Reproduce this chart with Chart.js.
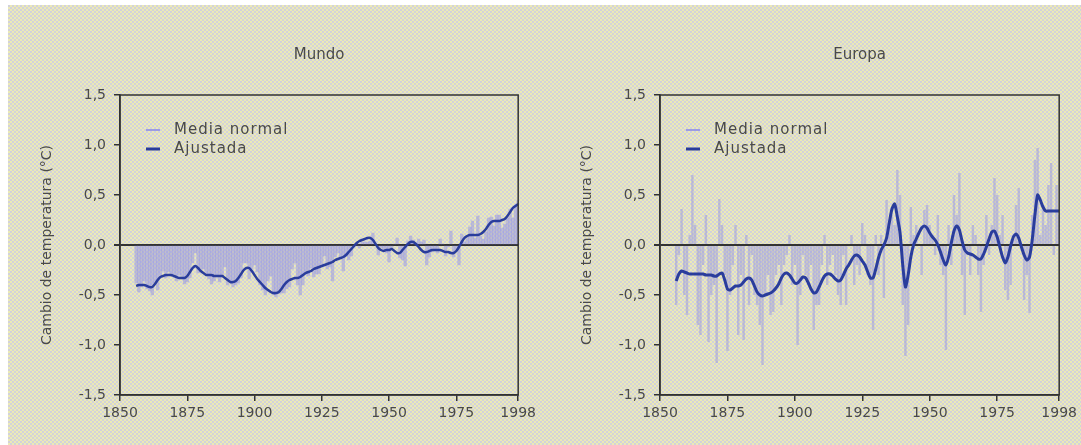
<!DOCTYPE html>
<html lang="es">
<head>
<meta charset="utf-8">
<title>Cambio de temperatura</title>
<script src="https://cdn.jsdelivr.net/npm/chart.js@4.4.1/dist/chart.umd.min.js"></script>
<style>
  html, body { margin: 0; padding: 0; background: #fff; }
  #page { position: relative; width: 1081px; height: 445px; overflow: hidden; }
  #fondo {
    position: absolute; left: 8px; top: 5px; right: 0; bottom: 0;
    background-color: #e0dfc2;
    background-image: repeating-conic-gradient(#eceab6 0 25%, #d2d2da 0 50%);
    background-size: 4px 4px;
  }
  canvas { position: absolute; top: 0; }
  #mundo { left: 0; }
  #europa { left: 540px; }
</style>
</head>
<body>
<div id="page">
  <div id="fondo"></div>
  <canvas id="mundo" width="540" height="445"></canvas>
  <canvas id="europa" width="541" height="445"></canvas>
</div>
<script>
// datos: anomalias anuales de temperatura (°C), desde 1856 hasta 1998
const primerAnio = 1856;
const xTicks = [1850, 1875, 1900, 1925, 1950, 1975, 1998];
const yTicks = [-1.5, -1.0, -0.5, 0.0, 0.5, 1.0, 1.5];

const mundoNormal = [
    -0.38, -0.47, -0.42, -0.36,
    -0.44, -0.46, -0.50, -0.38, -0.45, -0.30, -0.26, -0.33, -0.27, -0.29,
    -0.31, -0.36, -0.30, -0.34, -0.39, -0.37, -0.33, -0.18, -0.08, -0.28,
    -0.27, -0.24, -0.30, -0.34, -0.39, -0.36, -0.30, -0.37, -0.31, -0.22,
    -0.40, -0.36, -0.42, -0.40, -0.38, -0.33, -0.18, -0.18, -0.34, -0.24,
    -0.20, -0.27, -0.40, -0.45, -0.50, -0.36, -0.31, -0.50, -0.52, -0.49,
    -0.48, -0.48, -0.44, -0.42, -0.24, -0.18, -0.40, -0.50, -0.40, -0.30,
    -0.31, -0.23, -0.32, -0.29, -0.29, -0.21, -0.11, -0.24, -0.22, -0.36,
    -0.12, -0.08, -0.12, -0.26, -0.11, -0.15, -0.11, -0.01, 0.00, -0.03,
    0.03, 0.03, 0.03, 0.04, 0.12, 0.01, -0.10, -0.03, -0.05, -0.08,
    -0.17, -0.03, 0.01, 0.07, -0.13, -0.15, -0.21, 0.04, 0.09, 0.05,
    -0.01, 0.06, 0.03, 0.05, -0.20, -0.12, -0.07, -0.04, -0.08, 0.06,
    0.01, -0.11, -0.02, 0.14, -0.12, -0.06, -0.20, 0.11, 0.03, 0.09,
    0.18, 0.24, 0.07, 0.29, 0.09, 0.06, 0.13, 0.27, 0.28, 0.19,
    0.30, 0.30, 0.17, 0.21, 0.27, 0.36, 0.27, 0.40, 0.45
];
const mundoAjustada = [
    -0.41, -0.40, -0.40, -0.40,
    -0.41, -0.42, -0.42, -0.39, -0.35, -0.32, -0.31, -0.30, -0.30, -0.30,
    -0.31, -0.32, -0.33, -0.33, -0.33, -0.31, -0.27, -0.23, -0.21, -0.23,
    -0.26, -0.28, -0.30, -0.30, -0.30, -0.31, -0.31, -0.31, -0.31, -0.33,
    -0.35, -0.37, -0.37, -0.36, -0.33, -0.29, -0.25, -0.23, -0.23, -0.26,
    -0.30, -0.34, -0.37, -0.40, -0.43, -0.45, -0.47, -0.48, -0.48, -0.47,
    -0.44, -0.40, -0.37, -0.35, -0.34, -0.33, -0.33, -0.32, -0.30, -0.28,
    -0.27, -0.26, -0.24, -0.23, -0.22, -0.21, -0.20, -0.19, -0.18, -0.17,
    -0.15, -0.14, -0.13, -0.12, -0.10, -0.07, -0.04, -0.01, 0.02, 0.04,
    0.05, 0.06, 0.07, 0.07, 0.05, 0.01, -0.03, -0.05, -0.06, -0.05,
    -0.05, -0.04, -0.06, -0.08, -0.08, -0.05, -0.02, 0.01, 0.03, 0.03,
    0.01, -0.02, -0.05, -0.07, -0.07, -0.06, -0.05, -0.05, -0.05, -0.05,
    -0.06, -0.07, -0.07, -0.08, -0.08, -0.06, -0.02, 0.03, 0.07, 0.09,
    0.10, 0.10, 0.10, 0.10, 0.11, 0.13, 0.16, 0.20, 0.23, 0.24,
    0.24, 0.24, 0.25, 0.26, 0.29, 0.33, 0.37, 0.39, 0.41
];

const europaNormal = [
    -0.60, -0.10, 0.36, -0.50,
    -0.70, 0.10, 0.70, 0.20, -0.80, -0.90, -0.20, 0.30, -0.97, -0.50,
    -0.40, -1.18, 0.46, 0.20, -0.30, -1.06, -0.50, -0.20, 0.20, -0.90,
    -0.30, -0.95, 0.10, -0.60, -0.10, -0.50, -0.60, -0.80, -1.20, -0.50,
    -0.30, -0.70, -0.67, -0.30, -0.20, -0.60, -0.20, -0.10, 0.10, -0.40,
    -0.20, -1.00, -0.50, -0.10, -0.30, -0.40, -0.20, -0.85, -0.60, -0.60,
    -0.20, 0.10, -0.40, -0.20, -0.10, -0.30, -0.50, -0.60, -0.10, -0.60,
    0.00, 0.10, -0.40, -0.20, -0.30, 0.22, 0.10, -0.30, -0.40, -0.85,
    0.10, -0.30, 0.10, -0.53, 0.45, 0.20, 0.30, 0.20, 0.75, 0.50,
    -0.60, -1.11, -0.80, 0.38, 0.10, 0.20, 0.00, -0.30, 0.35, 0.40,
    0.20, 0.10, -0.10, 0.30, -0.20, -0.30, -1.05, 0.20, -0.20, 0.50,
    0.30, 0.72, -0.30, -0.70, -0.10, -0.30, 0.20, 0.10, -0.30, -0.67,
    -0.20, 0.30, -0.10, 0.20, 0.67, 0.50, 0.10, 0.30, -0.45, -0.55,
    -0.40, 0.10, 0.40, 0.57, 0.00, -0.55, -0.30, -0.68, 0.30, 0.85,
    0.97, 0.10, 0.40, 0.20, 0.60, 0.82, -0.10, 0.60, 0.30
];
const europaAjustada = [
    -0.36, -0.29, -0.26, -0.27,
    -0.28, -0.29, -0.29, -0.29, -0.29, -0.29, -0.29, -0.30, -0.30, -0.30,
    -0.31, -0.31, -0.29, -0.28, -0.35, -0.44, -0.45, -0.43, -0.41, -0.41,
    -0.40, -0.37, -0.34, -0.33, -0.35, -0.41, -0.47, -0.50, -0.51, -0.50,
    -0.49, -0.48, -0.46, -0.43, -0.39, -0.33, -0.29, -0.28, -0.30, -0.34,
    -0.38, -0.38, -0.35, -0.32, -0.33, -0.38, -0.44, -0.48, -0.47, -0.42,
    -0.36, -0.31, -0.29, -0.29, -0.31, -0.34, -0.36, -0.35, -0.30, -0.24,
    -0.20, -0.15, -0.11, -0.10, -0.12, -0.16, -0.20, -0.27, -0.33, -0.33,
    -0.24, -0.13, -0.05, 0.00, 0.07, 0.22, 0.36, 0.41, 0.28, 0.12,
    -0.20, -0.42, -0.30, -0.12, 0.00, 0.06, 0.12, 0.17, 0.19, 0.17,
    0.12, 0.08, 0.05, 0.00, -0.07, -0.15, -0.20, -0.12, 0.02, 0.14,
    0.19, 0.15, 0.04, -0.05, -0.08, -0.09, -0.10, -0.12, -0.14, -0.14,
    -0.09, -0.02, 0.06, 0.13, 0.14, 0.08, -0.02, -0.12, -0.18, -0.12,
    -0.01, 0.08, 0.11, 0.07, -0.02, -0.10, -0.15, -0.12, 0.05, 0.30,
    0.50, 0.45, 0.38, 0.34, 0.34, 0.34, 0.34, 0.34, 0.34
];

const colorTexto = '#4a4a4a';
const colorEje = '#333333';
const colorLinea = '#2a3d9c';

Chart.defaults.font.family = "'DejaVu Sans', sans-serif";
Chart.defaults.font.size = 14;
Chart.defaults.color = colorTexto;

// 0.5 -> "0,5"
function formatoDecimal(v) {
    return v.toFixed(1).replace('.', ',');
}

function serie(valores) {
    return valores.map((v, i) => ({ x: primerAnio + i, y: v }));
}

// marco completo alrededor del area del grafico
const marcoPlugin = {
    id: 'marco',
    afterDatasetsDraw(chart) {
        const { ctx, chartArea: a } = chart;
        ctx.save();
        ctx.strokeStyle = colorEje;
        ctx.lineWidth = 1.5;
        ctx.strokeRect(a.left, a.top, a.right - a.left, a.bottom - a.top);
        ctx.restore();
    }
};

// titulo centrado sobre el area del grafico
const tituloPlugin = {
    id: 'titulo',
    afterDraw(chart, args, opts) {
        const { ctx, chartArea: a } = chart;
        ctx.save();
        ctx.font = "15px 'DejaVu Sans', sans-serif";
        ctx.fillStyle = colorTexto;
        ctx.textAlign = 'center';
        ctx.textBaseline = 'middle';
        ctx.fillText(opts.text, (a.left + a.right) / 2, a.top - 40);
        ctx.restore();
    }
};

// leyenda dentro del grafico, arriba a la izquierda
const leyendaPlugin = {
    id: 'leyenda',
    afterDraw(chart) {
        const { ctx, chartArea: a } = chart;
        ctx.save();
        ctx.font = "15px 'DejaVu Sans', sans-serif";
        ctx.letterSpacing = '1px';
        ctx.textBaseline = 'middle';
        chart.data.datasets.forEach((ds, i) => {
            const x = a.left + 26;
            const y = a.top + 35 + i * 19;
            ctx.strokeStyle = ds.colorLeyenda;
            ctx.lineWidth = ds.type === 'line' ? 3 : 2;
            ctx.beginPath();
            ctx.moveTo(x, y);
            ctx.lineTo(x + 14, y);
            ctx.stroke();
            ctx.fillStyle = colorTexto;
            ctx.fillText(ds.label, x + 28, y);
        });
        ctx.restore();
    }
};

function crearPanel(id, titulo, normal, ajustada, colorBarra, anchoBarra, grosorLinea, derecha) {
    const ctx = document.getElementById(id).getContext('2d');
    return new Chart(ctx, {
        type: 'bar',
        data: {
            datasets: [
                {
                    type: 'bar',
                    label: 'Media normal',
                    data: serie(normal),
                    backgroundColor: colorBarra,
                    colorLeyenda: 'rgba(150,150,230,0.9)',
                    borderWidth: 0,
                    barPercentage: anchoBarra,
                    categoryPercentage: 1,
                    order: 1
                },
                {
                    type: 'line',
                    label: 'Ajustada',
                    data: serie(ajustada),
                    borderColor: colorLinea,
                    colorLeyenda: colorLinea,
                    borderWidth: grosorLinea,
                    pointRadius: 0,
                    tension: 0.25,
                    order: 0
                }
            ]
        },
        options: {
            responsive: false,
            animation: false,
            devicePixelRatio: 1,
            layout: { padding: { left: 0, right: derecha, top: 95, bottom: 0 } },
            plugins: {
                legend: { display: false },
                tooltip: { enabled: false },
                titulo: { text: titulo }
            },
            scales: {
                x: {
                    type: 'linear',
                    min: 1850,
                    max: 1998,
                    offset: false,
                    afterBuildTicks: (s) => { s.ticks = xTicks.map(v => ({ value: v })); },
                    afterFit: (s) => { s.height = 50; },
                    ticks: {
                        autoSkip: false,
                        maxRotation: 0,
                        padding: 4,
                        callback: (v) => String(v)
                    },
                    grid: {
                        drawOnChartArea: false,
                        offset: false,
                        tickLength: 6,
                        color: colorEje,
                        lineWidth: 1.5
                    },
                    border: { display: true, color: colorEje, width: 1.5 }
                },
                y: {
                    min: -1.5,
                    max: 1.5,
                    afterBuildTicks: (s) => { s.ticks = yTicks.map(v => ({ value: v })); },
                    afterFit: (s) => { s.width = 120; },
                    ticks: {
                        padding: 8,
                        callback: (v) => formatoDecimal(v)
                    },
                    title: {
                        display: true,
                        text: 'Cambio de temperatura (°C)',
                        padding: { top: 39, bottom: 0 }
                    },
                    grid: {
                        color: (c) => (c.tick && c.tick.value === 0 ? colorEje : 'rgba(0,0,0,0)'),
                        tickColor: colorEje,
                        tickLength: 6,
                        lineWidth: (c) => (c.tick && c.tick.value === 0 ? 2 : 1.5)
                    },
                    border: { display: true, color: colorEje, width: 1.5 }
                }
            }
        },
        plugins: [marcoPlugin, tituloPlugin, leyendaPlugin]
    });
}

document.addEventListener('DOMContentLoaded', () => {
    crearPanel('mundo', 'Mundo', mundoNormal, mundoAjustada, 'rgba(140,140,228,0.45)', 1, 2.5, 19);
    crearPanel('europa', 'Europa', europaNormal, europaAjustada, 'rgba(135,135,228,0.42)', 0.9, 3, 21);
});
</script>
</body>
</html>
